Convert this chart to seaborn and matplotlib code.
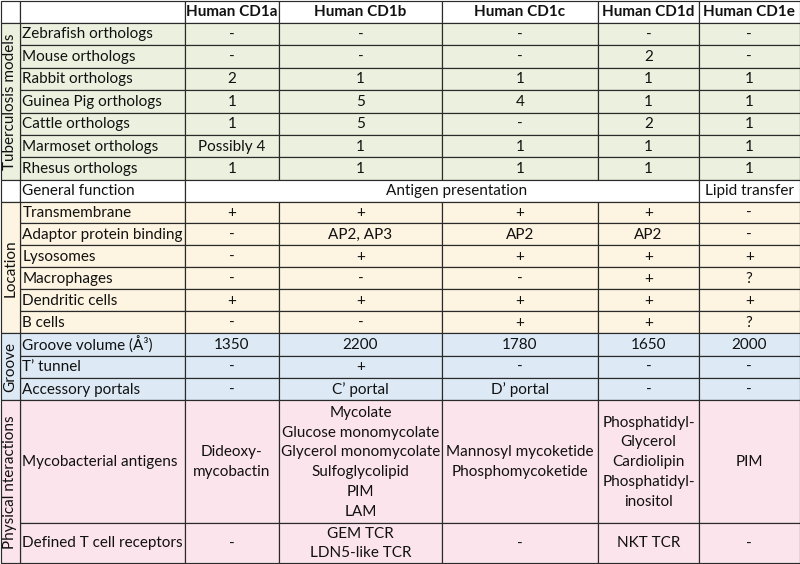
import matplotlib
matplotlib.use("Agg")
import matplotlib.pyplot as plt
import seaborn as sns
from matplotlib.patches import Rectangle

sns.set_theme(style="white")
plt.rcParams["font.family"] = ["Lato", "DejaVu Sans"]

# table content
cd1_columns = ["Human CD1a", "Human CD1b", "Human CD1c", "Human CD1d", "Human CD1e"]

ortholog_rows = ["Zebrafish orthologs", "Mouse orthologs", "Rabbit orthologs",
                 "Guinea Pig orthologs", "Cattle orthologs", "Marmoset orthologs",
                 "Rhesus orthologs"]
ortholog_values = [
    ["-", "-", "-", "-", "-"],
    ["-", "-", "-", "2", "-"],
    ["2", "1", "1", "1", "1"],
    ["1", "5", "4", "1", "1"],
    ["1", "5", "-", "2", "1"],
    ["Possibly 4", "1", "1", "1", "1"],
    ["1", "1", "1", "1", "1"],
]

general_label = "General function"
general_values = ["Antigen presentation", "Lipid transfer"]

location_rows = ["Transmembrane", "Adaptor protein binding", "Lysosomes",
                 "Macrophages", "Dendritic cells", "B cells"]
location_values = [
    ["+", "+", "+", "+", "-"],
    ["-", "AP2, AP3", "AP2", "AP2", "-"],
    ["-", "+", "+", "+", "+"],
    ["-", "-", "-", "+", "?"],
    ["+", "+", "+", "+", "+"],
    ["-", "-", "+", "+", "?"],
]

groove_rows = ["Groove volume (Å³)", "T’ tunnel", "Accessory portals"]
groove_values = [
    ["1350", "2200", "1780", "1650", "2000"],
    ["-", "+", "-", "-", "-"],
    ["-", "C’ portal", "D’ portal", "-", "-"],
]

physical_rows = ["Mycobacterial antigens", "Defined T cell receptors"]
physical_values = [
    ["Dideoxy-\nmycobactin",
     "Mycolate\nGlucose monomycolate\nGlycerol monomycolate\nSulfoglycolipid\nPIM\nLAM",
     "Mannosyl mycoketide\nPhosphomycoketide",
     "Phosphatidyl-\nGlycerol\nCardiolipin\nPhosphatidyl-\ninositol",
     "PIM"],
    ["-", "GEM TCR\nLDN5-like TCR", "-", "NKT TCR", "-"],
]

groups = ["Tuberculosis models", "Location", "Groove", "Physical nteractions"]

# layout (pixels)
col_edges = [0.5, 20, 185, 279, 442, 598, 699, 799.5]
row_h = 22.45
header_h = 22.2
general_h = 21.7
loc_h = 21.93
physical_h = [122.6, 39.7]
colors = {"green": "#EBF1DE", "cream": "#FDF4E1", "blue": "#DDEAF6",
          "pink": "#FCE4EC", "white": "white"}
edge = "#2a2a2a"
lw = 0.85
fs = 11

fig = plt.figure(figsize=(8, 5.64), dpi=100)
ax = fig.add_axes([0, 0, 1, 1])
ax.set_xlim(0, 800)
ax.set_ylim(564, 0)
ax.axis("off")


def cell(x0, x1, y0, y1, color, text=None, ha="center", bold=False, rot=0):
    ax.add_patch(Rectangle((x0, y0), x1 - x0, y1 - y0, facecolor=color,
                           edgecolor=edge, linewidth=lw))
    if text is None:
        return
    if ha == "left":
        tx = x0 + 2.5
    else:
        tx = (x0 + x1) / 2
    ax.text(tx, (y0 + y1) / 2 + 0.5, text, ha=ha, va="center", fontsize=fs,
            fontweight="bold" if bold else "normal", rotation=rot,
            multialignment="center", linespacing=1.53, color="#111111")


y = 0.5
# header
cell(col_edges[0], col_edges[1], y, y + header_h, colors["white"])
cell(col_edges[1], col_edges[2], y, y + header_h, colors["white"])
for j, name in enumerate(cd1_columns):
    cell(col_edges[j + 2], col_edges[j + 3], y, y + header_h, colors["white"], name, bold=True)
y += header_h


def section(labels, values, heights, color, group):
    global y
    top = y
    for lab, vals, h in zip(labels, values, heights):
        cell(col_edges[1], col_edges[2], y, y + h, color, lab, ha="left")
        for j, v in enumerate(vals):
            cell(col_edges[j + 2], col_edges[j + 3], y, y + h, color, v)
        y += h
    cell(col_edges[0], col_edges[1], top, y, color, group, rot=90)


section(ortholog_rows, ortholog_values, [row_h] * len(ortholog_rows), colors["green"], groups[0])

# general function row (merged cell for CD1a-CD1d)
cell(col_edges[0], col_edges[1], y, y + general_h, colors["white"])
cell(col_edges[1], col_edges[2], y, y + general_h, colors["white"], general_label, ha="left")
cell(col_edges[2], col_edges[6], y, y + general_h, colors["white"])
ax.text(457, y + general_h / 2 + 0.5, general_values[0], ha="center", va="center",
        fontsize=fs, color="#111111")
cell(col_edges[6], col_edges[7], y, y + general_h, colors["white"], general_values[1])
y += general_h

section(location_rows, location_values, [loc_h] * len(location_rows), colors["cream"], groups[1])
section(groove_rows, groove_values, [row_h] * len(groove_rows), colors["blue"], groups[2])
section(physical_rows, physical_values, physical_h, colors["pink"], groups[3])

fig.savefig("out.png", dpi=100)
